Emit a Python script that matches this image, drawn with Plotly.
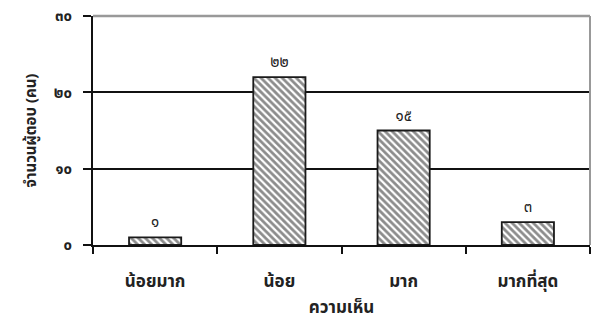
import plotly.graph_objects as go

# Survey responses by opinion level
categories = ["น้อยมาก", "น้อย", "มาก", "มากที่สุด"]
counts = [1, 22, 15, 3]

thai_digits = "๐๑๒๓๔๕๖๗๘๙"


def to_thai(n):
    return "".join(thai_digits[int(d)] for d in str(n))


bar_labels = [to_thai(v) for v in counts]
y_ticks = [0, 10, 20, 30]
y_tick_labels = [to_thai(v) for v in y_ticks]

FONT = "Tahoma, 'Noto Sans Thai', 'Leelawadee UI', 'Noto Sans', sans-serif"

fig = go.Figure(
    go.Bar(
        x=categories,
        y=counts,
        text=bar_labels,
        textposition="outside",
        textfont=dict(family=FONT, size=15, color="#222"),
        cliponaxis=False,
        marker=dict(
            color="white",
            line=dict(color="#1a1a1a", width=1.8),
            pattern=dict(shape="\\", fgcolor="#1a1a1a", bgcolor="white", size=5, solidity=0.55),
        ),
        width=0.42,
        hoverinfo="skip",
    )
)

fig.update_layout(
    width=591,
    height=321,
    margin=dict(l=93, r=1, t=16, b=76),
    paper_bgcolor="white",
    plot_bgcolor="white",
    showlegend=False,
    font=dict(family=FONT, color="#222"),
    xaxis=dict(
        showline=True,
        linecolor="#111",
        linewidth=2,
        ticks="outside",
        tickson="boundaries",
        ticklen=7,
        tickwidth=1.5,
        tickcolor="#111",
        ticklabelstandoff=20,
        tickfont=dict(family=FONT, size=17, color="#222", weight="bold"),
        title=dict(text="<b>ความเห็น</b>", font=dict(family=FONT, size=17, color="#222"), standoff=12),
        showgrid=False,
    ),
    yaxis=dict(
        range=[0, 30],
        tickvals=y_ticks,
        ticktext=y_tick_labels,
        showline=True,
        linecolor="#111",
        linewidth=2,
        ticks="outside",
        ticklen=8,
        tickwidth=2,
        tickcolor="#111",
        ticklabelstandoff=8,
        tickfont=dict(family=FONT, size=15, color="#222", weight="bold"),
        showgrid=True,
        gridcolor="#111",
        gridwidth=2,
        zeroline=False,
        title=dict(text="<b>จำนวนผู้ตอบ (คน)</b>", font=dict(family=FONT, size=15, color="#222"), standoff=14),
    ),
    shapes=[
        dict(type="line", xref="paper", yref="paper", x0=0, x1=1, y0=1, y1=1,
             line=dict(color="#999", width=2.5), layer="above"),
        dict(type="line", xref="paper", yref="paper", x0=1, x1=1, y0=0, y1=1,
             line=dict(color="#999", width=2), layer="above"),
    ],
)

fig.write_html("out.html")
